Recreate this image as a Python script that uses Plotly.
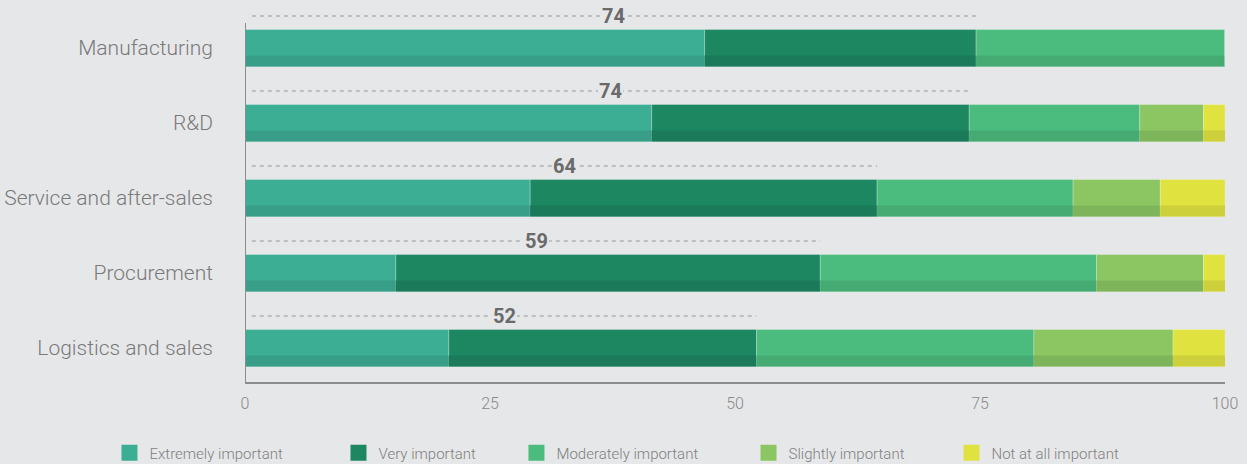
import plotly.graph_objects as go

categories = ["Manufacturing", "R&D", "Service and after-sales", "Procurement", "Logistics and sales"]
series_names = ["Extremely important", "Very important", "Moderately important",
                "Slightly important", "Not at all important"]
extremely = [46.9, 41.5, 29.1, 15.4, 20.8]
very = [27.7, 32.4, 35.4, 43.3, 31.4]
moderately = [25.4, 17.4, 20.0, 28.2, 28.3]
slightly = [0.0, 6.5, 8.9, 10.9, 14.2]
not_at_all = [0.0, 2.2, 6.6, 2.2, 5.3]
top_two_labels = [74, 74, 64, 59, 52]
x_ticks = [0, 25, 50, 75, 100]

colors = ["#3CAE94", "#1D8762", "#4BBC7E", "#8BC662", "#DFE23F"]
dark_colors = ["#389E87", "#1A7A59", "#46AB72", "#7EB55A", "#CDD03A"]
legend_x = [-0.1383, 0.0954, 0.2770, 0.5138, 0.7209]

series = [extremely, very, moderately, slightly, not_at_all]
ypos = list(range(len(categories)))
BG = "#E6E7E9"
FONT = "Roboto Light, Roboto"

fig = go.Figure()
bases = [0.0] * len(categories)
for name, vals, c, dc in zip(series_names, series, colors, dark_colors):
    fig.add_trace(go.Bar(
        y=ypos, x=vals, base=bases, orientation="h", name=name,
        marker=dict(color=c, line=dict(color="rgba(255,255,255,0.25)", width=1)),
        width=0.493, showlegend=False, hoverinfo="skip"))
    fig.add_trace(go.Bar(
        y=ypos, x=vals, base=bases, orientation="h", name=name,
        marker=dict(color=dc, line=dict(width=0)),
        width=0.147, offset=0.246 - 0.147, showlegend=False, hoverinfo="skip"))
    bases = [b + v for b, v in zip(bases, vals)]

# legend entries, one legend per entry
legend_layouts = {}
for k, (name, c, lx) in enumerate(zip(series_names, colors, legend_x)):
    lid = "legend" if k == 0 else f"legend{k + 1}"
    fig.add_trace(go.Scatter(x=[None], y=[None], mode="markers", name=name, legend=lid,
                             marker=dict(symbol="square", size=18, color=c)))
    legend_layouts[lid] = dict(orientation="h", x=lx, xanchor="left", y=-0.1893, yanchor="middle",
                               font=dict(size=15, color="#808080", family=FONT, weight=300),
                               itemwidth=30, bgcolor="rgba(0,0,0,0)")

# dashed top-two lines and labels
for i, (e, v, lab) in enumerate(zip(extremely, very, top_two_labels)):
    total = e + v
    yl = i - 0.427
    fig.add_trace(go.Scatter(x=[0.7, total], y=[yl, yl], mode="lines",
                             line=dict(color="#979797", width=1, dash="4px,4px"),
                             showlegend=False, hoverinfo="skip"))
    fig.add_annotation(x=(0.7 + total) / 2, y=yl, text=f"<b>{lab}</b>", showarrow=False,
                       bgcolor=BG, bordercolor=BG, borderwidth=0, borderpad=1,
                       font=dict(family="Roboto", size=20, color="#6A6A6A"))

# left axis line (starts at top of first bar)
fig.add_shape(type="line", xref="x", yref="y", x0=0, x1=0, y0=-0.333, y1=4.453,
              line=dict(color="#8C8C8C", width=2))

fig.update_layout(
    width=1247, height=464,
    paper_bgcolor=BG, plot_bgcolor=BG,
    barmode="overlay",
    margin=dict(l=245, r=22, t=7, b=82, autoexpand=False),
    font=dict(family=FONT, color="#808080"),
    xaxis=dict(range=[0, 100], tickvals=x_ticks, showgrid=False, zeroline=False,
               showline=True, linecolor="#8C8C8C", linewidth=2, ticklabelstandoff=6,
               ticks="", tickfont=dict(size=16, color="#8A8A8A", family=FONT, weight=300)),
    yaxis=dict(range=[4.453, -0.547], tickvals=ypos, ticktext=categories,
               showgrid=False, zeroline=False, showline=False,
               ticks="", ticklabelstandoff=31,
               tickfont=dict(size=21, color="#7A7A7A", family=FONT, weight=300)),
    **legend_layouts,
)

fig.write_html("out.html", config={"displayModeBar": False},
               post_script="document.body.style.margin='0';document.body.style.background='%s';" % BG)
